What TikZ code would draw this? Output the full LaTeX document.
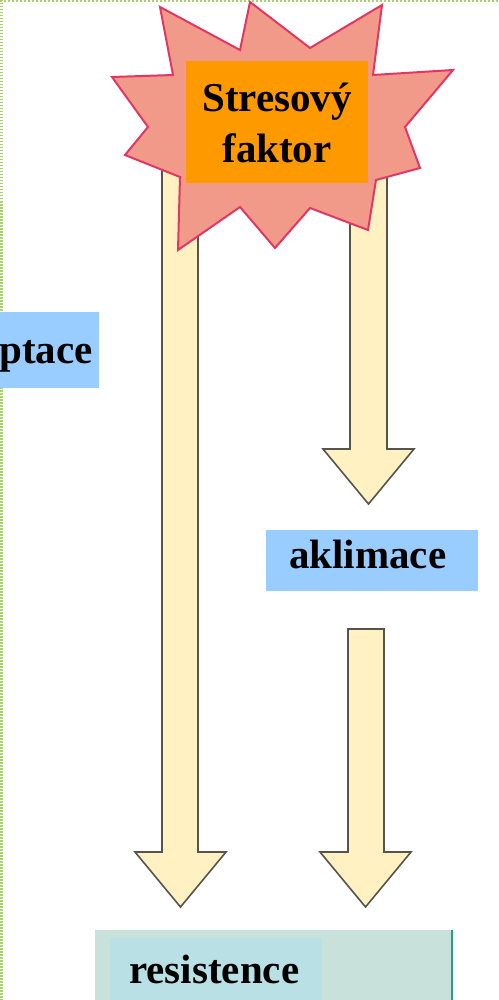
\documentclass[tikz,border=0pt]{standalone}
\usepackage{fontspec}
\setmainfont{Liberation Serif}
\begin{document}
\begin{tikzpicture}[x=1pt,y=-1pt,
  blockarrow/.style={fill=arrowfill,draw=arrowline,line width=1.6pt,line join=miter},
  label/.style={font=\fontsize{41}{51}\selectfont\bfseries,text=black,inner sep=0pt},
  panel/.style={anchor=north west,inner sep=0pt},
]
\definecolor{arrowfill}{HTML}{FFF1C2}
\definecolor{arrowline}{HTML}{55544E}
\definecolor{starfill}{HTML}{F19A8A}
\definecolor{starline}{HTML}{E23762}
\definecolor{stressbox}{HTML}{FF9900}
\definecolor{labelblue}{HTML}{99CCFF}
\definecolor{resout}{HTML}{C8E1DA}
\definecolor{resin}{HTML}{B9E1E5}
\definecolor{resedge}{HTML}{1FA383}
\definecolor{frame}{HTML}{A6D36E}

\useasboundingbox (0,0) rectangle (498,1000);
\fill[white] (0,0) rectangle (498,1000);

% dotted frame along the top and left edges
\draw[frame,line width=2pt,dash pattern=on 2pt off 2pt] (0,1) -- (498,1);
\draw[frame,line width=3pt,dash pattern=on 1.5pt off 1.5pt] (1.5,0) -- (1.5,1000);

% long arrow on the left
\draw[blockarrow] (162,150) -- (162,852) -- (135,852) -- (180.5,907)
  -- (226,852) -- (198,852) -- (198,150);
% short arrow to the acclimation label
\draw[blockarrow] (350,160) -- (350,449) -- (323,449) -- (368.5,504)
  -- (414,449) -- (387,449) -- (387,160);
% arrow from the acclimation label down
\draw[blockarrow] (348,629) -- (348,852) -- (320,852) -- (365.5,907)
  -- (411,852) -- (384,852) -- (384,629) -- cycle;

% burst behind the stress factor
\draw[fill=starfill,draw=starline,line width=2pt,line join=miter]
  (160,7) -- (240,50) -- (250,2) -- (310,48) -- (382,5) -- (373,75)
  -- (453,70) -- (405,127) -- (420,168) -- (376,180) -- (368,230)
  -- (310,208) -- (275,248) -- (240,207) -- (178,250) -- (180,177)
  -- (125,155) -- (148,127) -- (112,77) -- (173,75) -- cycle;

\node[panel,fill=stressbox,minimum width=182pt,minimum height=122pt] (stressbox) at (186,61) {};
\node[label,anchor=base] (stress1) at (277,112) {Stresový};
\node[label,anchor=base] (stress2) at (277,163) {faktor};

% side labels
\node[panel,fill=labelblue,minimum width=99pt,minimum height=76pt] (adaptbox) at (0,312) {};
\node[label,anchor=base east] (adapt) at (93,363) {ptace};
\node[panel,fill=labelblue,minimum width=212pt,minimum height=61pt] (aklimbox) at (266,530) {};
\node[label,anchor=base west] (aklim) at (289,568) {aklimace};

% resistance box at the bottom
\fill[resout] (95,930) rectangle (453,1000);
\draw[resedge,line width=2.5pt] (452,930) -- (452,1000);
\node[panel,fill=resin,minimum width=212pt,minimum height=62pt] (resbox) at (110,938) {};
\node[label,anchor=base west] (resist) at (129,983) {resistence};
\end{tikzpicture}
\end{document}
